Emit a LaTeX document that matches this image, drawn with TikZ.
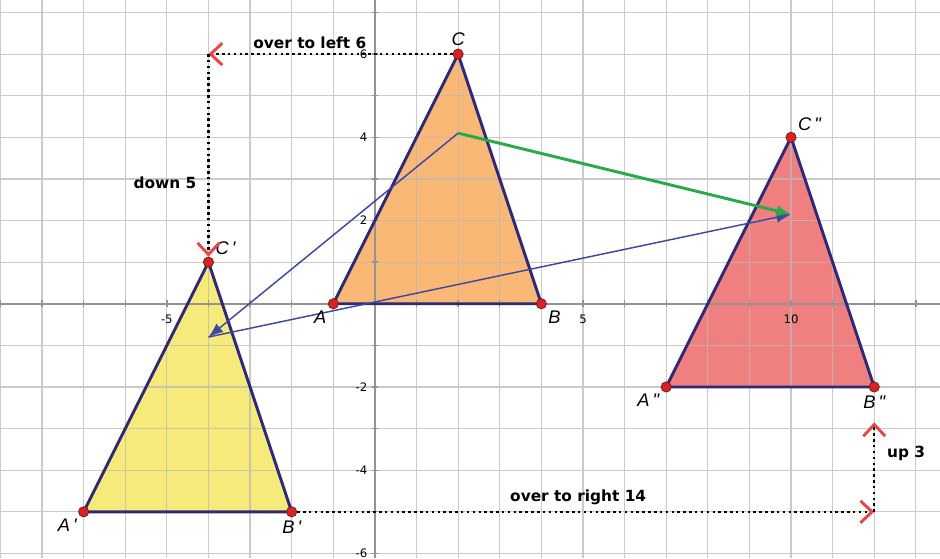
\documentclass[tikz,border=0pt]{standalone}
\usepackage{fontspec}
\setmainfont{DejaVu Sans}
\newfontfamily\vtxfont{Liberation Sans}
\usetikzlibrary{arrows.meta}
\definecolor{orangefill}{RGB}{250,184,118}
\definecolor{yellowfill}{RGB}{245,234,122}
\definecolor{pinkfill}{RGB}{240,128,128}
\definecolor{edgeblue}{RGB}{46,40,118}
\definecolor{vecblue}{RGB}{62,72,162}
\definecolor{vecgreen}{RGB}{40,170,72}
\definecolor{dotred}{RGB}{214,36,36}
\definecolor{markred}{RGB}{232,70,70}

\begin{document}
\begin{tikzpicture}[
  gridline/.style={draw=gray!55, line width=0.8pt, opacity=0.75},
  axisline/.style={draw=gray!85, line width=1.3pt},
  tickline/.style={draw=gray!85, line width=0.9pt},
  tri/.style={draw=edgeblue, line width=2pt, line join=round},
  vtx/.style={circle, fill=dotred, draw=dotred!60!black, line width=0.5pt,
    inner sep=0pt, minimum size=7pt},
  vlbl/.style={font=\vtxfont\itshape\fontsize{12.5}{14}\selectfont, inner sep=2pt},
  ticklbl/.style={font=\fontsize{8}{9}\selectfont, inner sep=1pt},
  note/.style={font=\fontsize{10.5}{12}\selectfont\bfseries, inner sep=2pt},
  move/.style={draw=black, line width=1.7pt, dash pattern=on 1.7pt off 2.3pt,
    -{Straight Barb[color=markred, length=8pt, width=15pt, line width=2pt]}},
  vec/.style={draw=vecblue, line width=1pt, -{Latex[length=10pt, width=7.5pt]}},
  sumvec/.style={draw=vecgreen, line width=2pt, -{Latex[length=10pt, width=8pt]}}
]
\fill[white] (-9.01,-6.12) rectangle (13.58,7.30);
\useasboundingbox (-9.01,-6.12) rectangle (13.58,7.30);

\coordinate (A) at (-1,0);
\coordinate (B) at (4,0);
\coordinate (C) at (2,6);
\coordinate (Ap) at (-7,-5);
\coordinate (Bp) at (-2,-5);
\coordinate (Cp) at (-4,1);
\coordinate (App) at (7,-2);
\coordinate (Bpp) at (12,-2);
\coordinate (Cpp) at (10,4);
\coordinate (turnL) at (-4,6);
\coordinate (turnR) at (12,-5);
\coordinate (upEnd) at (12,-2.85);
\coordinate (cen) at (2,4.1);
\coordinate (cenp) at (-4,-0.8);
\coordinate (cenpp) at (10,2.15);

\fill[orangefill] (A) -- (B) -- (C) -- cycle;
\fill[yellowfill] (Ap) -- (Bp) -- (Cp) -- cycle;
\fill[pinkfill] (App) -- (Bpp) -- (Cpp) -- cycle;

\draw[gridline] (-9.01,-6.12) grid (13.58,7.30);
\draw[axisline] (-9.01,0) -- (13.58,0);
\draw[axisline] (0,-6.12) -- (0,7.30);
\foreach \t in {-9,...,13} \draw[tickline] (\t,-0.08) -- (\t,0.08);
\foreach \t in {-6,...,7} \draw[tickline] (-0.08,\t) -- (0.08,\t);
\foreach \t in {-5,5,10} \node[ticklbl] (x\t) at (\t,-0.38) {\t};
\foreach \t in {-6,-4,-2,2,4,6} \node[ticklbl, anchor=east] (y\t) at (-0.14,\t) {\t};

\draw[tri] (A) -- (B) -- (C) -- cycle;
\draw[tri] (Ap) -- (Bp) -- (Cp) -- cycle;
\draw[tri] (App) -- (Bpp) -- (Cpp) -- cycle;

\draw[vec] (cen) -- (cenp);
\draw[vec] (cenp) -- (cenpp);
\draw[sumvec] (cen) -- (cenpp);

\node[vtx, label={[vlbl]above:C}] (dotC) at (C) {};
\node[vtx, label={[vlbl]below left:A}] (dotA) at (A) {};
\node[vtx, label={[vlbl]below right:B}] (dotB) at (B) {};
\node[vtx, label={[vlbl]above right:C\,\textquotesingle}] (dotCp) at (Cp) {};
\node[vtx, label={[vlbl]below left:A\,\textquotesingle}] (dotAp) at (Ap) {};
\node[vtx, label={[vlbl]below:B\,\textquotesingle}] (dotBp) at (Bp) {};
\node[vtx, label={[vlbl]above right:C\,\textquotedbl}] (dotCpp) at (Cpp) {};
\node[vtx, label={[vlbl]below left:A\,\textquotedbl}] (dotApp) at (App) {};
\node[vtx, label={[vlbl]below:B\,\textquotedbl}] (dotBpp) at (Bpp) {};

\draw[move] (dotC) -- node[note, pos=0.585, above=1pt] (leftnote) {over to left 6} (turnL);
\draw[move] (turnL) -- node[note, pos=0.635, left=5.5pt] (downnote) {down 5} (dotCp);
\draw[move] (dotBp) -- node[note, pos=0.487, above=2pt] (rightnote) {over to right 14} (turnR);
\draw[move] (turnR) -- node[note, pos=0.65, right=6pt] (upnote) {up 3} (upEnd);
\end{tikzpicture}
\end{document}
